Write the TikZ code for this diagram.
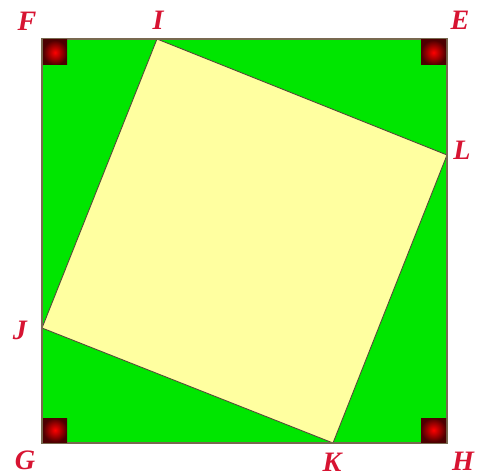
\documentclass[tikz,border=0pt]{standalone}
\usepackage{fontspec}
\setmainfont{Liberation Serif}
\definecolor{fieldgreen}{RGB}{0,230,0}
\definecolor{paleyellow}{RGB}{255,255,160}
\definecolor{edgebrown}{RGB}{120,105,80}
\definecolor{labelred}{RGB}{215,20,50}
\tikzset{
  vlabel/.style={text=labelred, font=\fontsize{16}{19}\selectfont\bfseries\itshape},
  rightmark/.style={inner color=red, outer color=red!30!black}
}

\begin{document}
\begin{tikzpicture}[x=0.02cm, y=-0.02cm]
    \useasboundingbox (0,0) rectangle (480,476);

    % Corners of the big square
    \coordinate (F) at (42,39);
    \coordinate (E) at (447,39);
    \coordinate (H) at (447,443);
    \coordinate (G) at (42,443);

    % Corners of the tilted square
    \coordinate (I) at (157,39);
    \coordinate (L) at (447,155);
    \coordinate (K) at (333,443);
    \coordinate (J) at (42,328);

    % Fill the big square and the tilted square
    \fill[fieldgreen] (F) -- (E) -- (H) -- (G) -- cycle;
    \filldraw[fill=paleyellow, draw=edgebrown!70!black, line width=0.5pt] (I) -- (L) -- (K) -- (J) -- cycle;
    \draw[edgebrown, line width=1.2pt] (F) -- (E) -- (H) -- (G) -- cycle;

    % Right angle markers
    \shade[rightmark] (43,40) rectangle (67,65);
    \shade[rightmark] (421,40) rectangle (446,65);
    \shade[rightmark] (421,418) rectangle (446,442);
    \shade[rightmark] (43,418) rectangle (67,442);

    % Vertex labels
    \node[vlabel] (labF) at (27,21) {F};
    \node[vlabel] (labI) at (158,20) {I};
    \node[vlabel] (labE) at (460,20) {E};
    \node[vlabel] (labL) at (462,150) {L};
    \node[vlabel] (labJ) at (20,330) {J};
    \node[vlabel] (labG) at (25,460) {G};
    \node[vlabel] (labK) at (332,462) {K};
    \node[vlabel] (labH) at (463,461) {H};

\end{tikzpicture}
\end{document}
